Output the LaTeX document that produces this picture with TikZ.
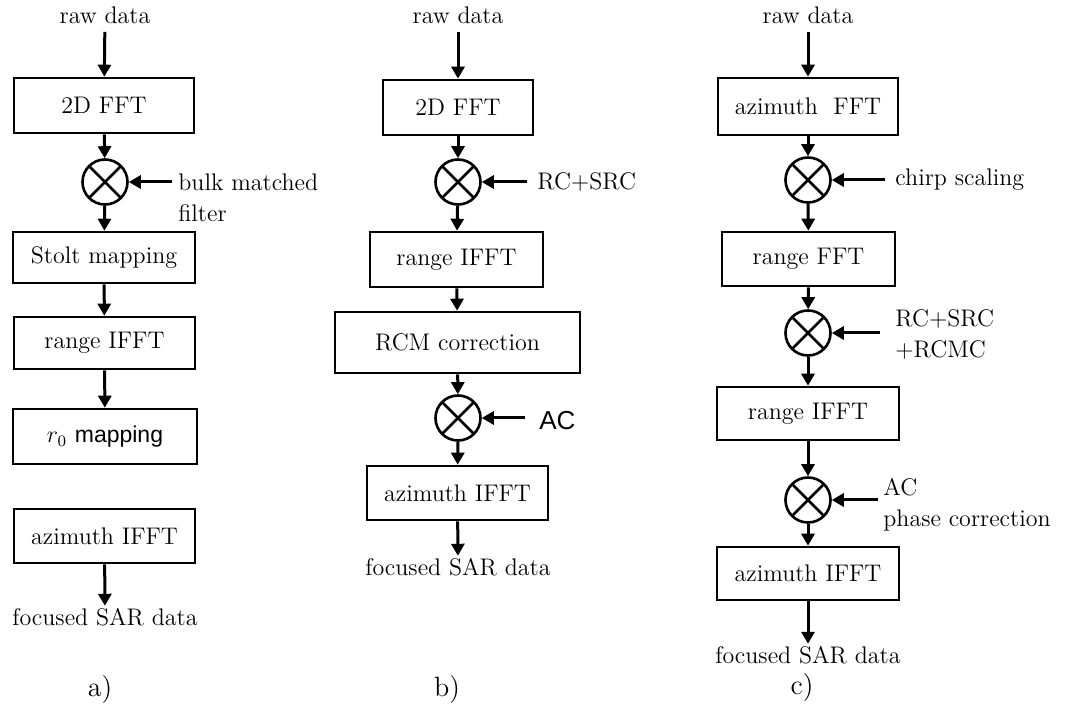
\documentclass[tikz,border=0pt]{standalone}
\usepackage{fontspec}
\newfontfamily\arialfont{Liberation Sans}
\usetikzlibrary{arrows.meta}
\begin{document}
\begin{tikzpicture}[x=0.5pt,y=-0.5pt,
  box/.style={draw,line width=1.3pt,inner sep=0pt,font=\fontsize{12}{14}\selectfont},
  mult/.style={draw,circle,line width=1.3pt,minimum size=22.5pt,inner sep=0pt,
    path picture={\draw[line width=1.3pt]
      (path picture bounding box.north west)--(path picture bounding box.south east)
      (path picture bounding box.north east)--(path picture bounding box.south west);}},
  flow/.style={-{Triangle[length=6pt,width=6.5pt]},line width=1.5pt},
  txt/.style={inner sep=1pt,font=\fontsize{12}{15.5}\selectfont,align=left},
  sans/.style={inner sep=1pt,font=\arialfont\fontsize{13}{15}\selectfont},
  panellabel/.style={font=\fontsize{14}{16}\selectfont}]
\useasboundingbox (0,0) rectangle (1089,711);

% ---------- a) wavenumber-domain chain ----------
\node[txt] (a0) at (105,15) {raw data};
\node[box,minimum width=90pt,minimum height=27.5pt] (a1) at (104,105.5) {2D FFT};
\node[mult] (am) at (105,182) {};
\node[box,minimum width=91pt,minimum height=25.5pt] (a2) at (104,257.5) {Stolt mapping};
\node[box,minimum width=90.5pt,minimum height=26pt] (a3) at (104.5,343) {range IFFT};
\node[box,minimum width=92pt,minimum height=27.5pt] (a4) at (105,436.5) {$r_0$ {\arialfont\fontsize{11.5}{14}\selectfont mapping}};
\node[box,minimum width=90.5pt,minimum height=27pt] (a5) at (104.5,536) {azimuth IFFT};
\node[txt] (a6) at (105,617) {focused SAR data};
\coordinate (ai) at (172,182);
\node[txt,anchor=west] (al) at (176,197.5) {bulk matched\\filter};
\node[panellabel] (acap) at (100,690) {a)};

\draw[flow,shorten <=3pt] (a0) -- (a1);
\draw[flow] (a1) -- (am);
\draw[flow] (am) -- (a2);
\draw[flow] (a2) -- (a3);
\draw[flow] (a3) -- (a4);
\draw[flow] (a5) -- (a6);
\draw[flow] (ai) -- (am);

% ---------- b) range-Doppler chain ----------
\node[txt] (b0) at (458,15) {raw data};
\node[box,minimum width=75pt,minimum height=27.5pt] (b1) at (458,107.5) {2D FFT};
\node[mult] (bm1) at (458,182) {};
\node[box,minimum width=86.5pt,minimum height=27.5pt] (b2) at (456.5,259.5) {range IFFT};
\node[box,minimum width=122.5pt,minimum height=30.5pt] (b3) at (457.5,342.5) {RCM correction};
\node[mult] (bm2) at (458,418) {};
\node[box,minimum width=90.5pt,minimum height=27pt] (b4) at (457.5,493) {azimuth IFFT};
\node[txt] (b5) at (458,567) {focused SAR data};
\coordinate (bi1) at (527,182);
\coordinate (bi2) at (525,418);
\node[txt,anchor=west] (bl1) at (535,182) {RC+SRC};
\node[sans,anchor=west] (bl2) at (537,421) {AC};
\node[panellabel] (bcap) at (447,690) {b)};

\draw[flow,shorten <=3pt] (b0) -- (b1);
\draw[flow] (b1) -- (bm1);
\draw[flow] (bm1) -- (b2);
\draw[flow] (b2) -- (b3);
\draw[flow] (b3) -- (bm2);
\draw[flow] (bm2) -- (b4);
\draw[flow] (b4) -- (b5);
\draw[flow] (bi1) -- (bm1);
\draw[flow] (bi2) -- (bm2);

% ---------- c) chirp-scaling chain ----------
\node[txt] (c0) at (808,15) {raw data};
\node[box,minimum width=90pt,minimum height=28.5pt] (c1) at (808,106.5) {azimuth\ \ FFT};
\node[mult] (cm1) at (808,180) {};
\node[box,minimum width=86.5pt,minimum height=27pt] (c2) at (808.5,259) {range FFT};
\node[mult] (cm2) at (808,333) {};
\node[box,minimum width=91pt,minimum height=26.5pt] (c3) at (808,413.5) {range IFFT};
\node[mult] (cm3) at (808,500) {};
\node[box,minimum width=91pt,minimum height=26.5pt] (c4) at (808,573.5) {azimuth IFFT};
\node[txt] (c5) at (808,655) {focused SAR data};
\coordinate (ci1) at (885,180);
\coordinate (ci2) at (880,333);
\coordinate (ci3) at (878,500);
\node[txt,anchor=west] (cl1) at (893,180) {chirp scaling};
\node[txt,anchor=west] (cl2) at (893,334) {RC+SRC\\+RCMC};
\node[txt,anchor=west] (cl3) at (881,504.5) {AC\\phase correction};
\node[panellabel] (ccap) at (802,688) {c)};

\draw[flow,shorten <=3pt] (c0) -- (c1);
\draw[flow] (c1) -- (cm1);
\draw[flow] (cm1) -- (c2);
\draw[flow] (c2) -- (cm2);
\draw[flow] (cm2) -- (c3);
\draw[flow] (c3) -- (cm3);
\draw[flow] (cm3) -- (c4);
\draw[flow] (c4) -- (c5);
\draw[flow] (ci1) -- (cm1);
\draw[flow] (ci2) -- (cm2);
\draw[flow] (ci3) -- (cm3);
\end{tikzpicture}
\end{document}
